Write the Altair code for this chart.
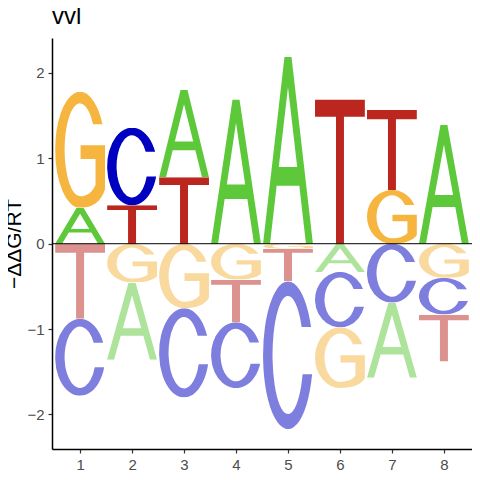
import base64
import altair as alt
import pandas as pd

positions = [1, 2, 3, 4, 5, 6, 7, 8]
val_A = [0.42, -0.905, 1.02, 1.69, 2.19, -0.33, -0.88, 1.39]
val_C = [-0.90, 0.91, -1.045, -0.77, -1.73, -0.65, -0.69, -0.43]
val_G = [1.36, -0.455, -0.755, -0.42, -0.06, -0.71, 0.63, -0.40]
val_T = [-0.88, 0.45, 0.78, -0.50, -0.38, 1.69, 0.94, -0.55]
y_ticks = [-2, -1, 0, 1, 2]
title_text = "vvl"
y_title = "\u2212\u0394\u0394G/RT"

# ---- letter glyph outlines (style only, 100x100 box, stretched to fit) ----
GLYPHS = {
    "A": ["M0,100 L43,0 L57,0 L100,100 L86,100 L72.7,69 L27.3,69 L14,100 Z "
          "M50,16.3 L68.4,59 L31.6,59 Z"],
    "C": ["M96.2,31 A50,50 0 1 0 98.3,63 L79.3,63 A31,40 0 1 1 77.3,31 Z"],
    "G": ["M94.9,28 A50,50 0 0 0 0,50 A50,50 0 0 0 50,100 "
          "C75,100 92,95 100,84 L100,46 L51,46 L51,58 L81,58 L81,80 "
          "C75,86 65,90 50,90 A31,40 0 0 1 19,50 A31,40 0 0 1 75.9,28 Z"],
    "T": ["M0,0 H100 V12 H58 V100 H42 V12 H0 Z"],
}
COLORS = {"A": "#5DC93A", "C": "#0000C0", "G": "#F5B53F", "T": "#BB271F"}


def glyph_url(letter):
    paths = "".join(f'<path d="{d}"/>' for d in GLYPHS[letter])
    svg = ('<svg xmlns="http://www.w3.org/2000/svg" width="100" height="100" '
           'viewBox="0 0 100 100" preserveAspectRatio="none">'
           f'<g fill="{COLORS[letter]}" fill-rule="evenodd">{paths}</g></svg>')
    return "data:image/svg+xml;base64," + base64.b64encode(svg.encode()).decode()


rows = []
for letter, vals in (("A", val_A), ("C", val_C), ("G", val_G), ("T", val_T)):
    for p, v in zip(positions, vals):
        rows.append({"pos": p, "letter": letter, "value": v, "url": glyph_url(letter)})
df = pd.DataFrame(rows)

FONT = "Liberation Sans"

x_scale = alt.Scale(domain=[0.46, 8.54], nice=False, zero=False)
y_scale = alt.Scale(domain=[-2.405, 2.41], nice=False, zero=False)

letters = (
    alt.Chart(df)
    .transform_calculate(absval="abs(datum.value)")
    .transform_stack(
        stack="value",
        groupby=["pos"],
        sort=[alt.SortField("absval", order="ascending")],
        as_=["y0", "y1"],
    )
    .transform_calculate(x0="datum.pos - 0.48", x1="datum.pos + 0.48")
    .mark_image(aspect=False)
    .encode(
        x=alt.X("x0:Q", scale=x_scale,
                axis=alt.Axis(values=positions, title=None, format="d")),
        x2="x1:Q",
        y=alt.Y("y0:Q", scale=y_scale,
                axis=alt.Axis(values=y_ticks, title=y_title, format="d")),
        y2="y1:Q",
        url="url:N",
        opacity=alt.condition("datum.value < 0", alt.value(0.5), alt.value(1.0)),
    )
)

zero_line = (
    alt.Chart(pd.DataFrame({"z": [0]}))
    .mark_rule(color="black", strokeWidth=1)
    .encode(y=alt.Y("z:Q", scale=y_scale))
)

chart = (
    alt.layer(letters, zero_line)
    .properties(
        width=420,
        height=411,
        title=alt.TitleParams(title_text, anchor="start", frame="group",
                              fontSize=24, font=FONT, fontWeight="normal",
                              color="black", offset=9),
        autosize=alt.AutoSizeParams(type="none"),
        padding={"left": 44, "top": 30, "right": 0, "bottom": 23},
    )
    .configure_view(stroke=None)
    .configure_axis(
        grid=False,
        domainColor="black",
        domainWidth=1.5,
        tickColor="#333333",
        tickWidth=1.2,
        tickSize=4,
        labelFont=FONT,
        labelFontSize=15,
        labelColor="#4D4D4D",
        labelPadding=4,
        titleFont=FONT,
        titleFontSize=21,
        titleFontWeight="normal",
        titleColor="black",
        titlePadding=2,
    )
)

chart.save("out.html", embed_options={"renderer": "svg", "actions": False})
